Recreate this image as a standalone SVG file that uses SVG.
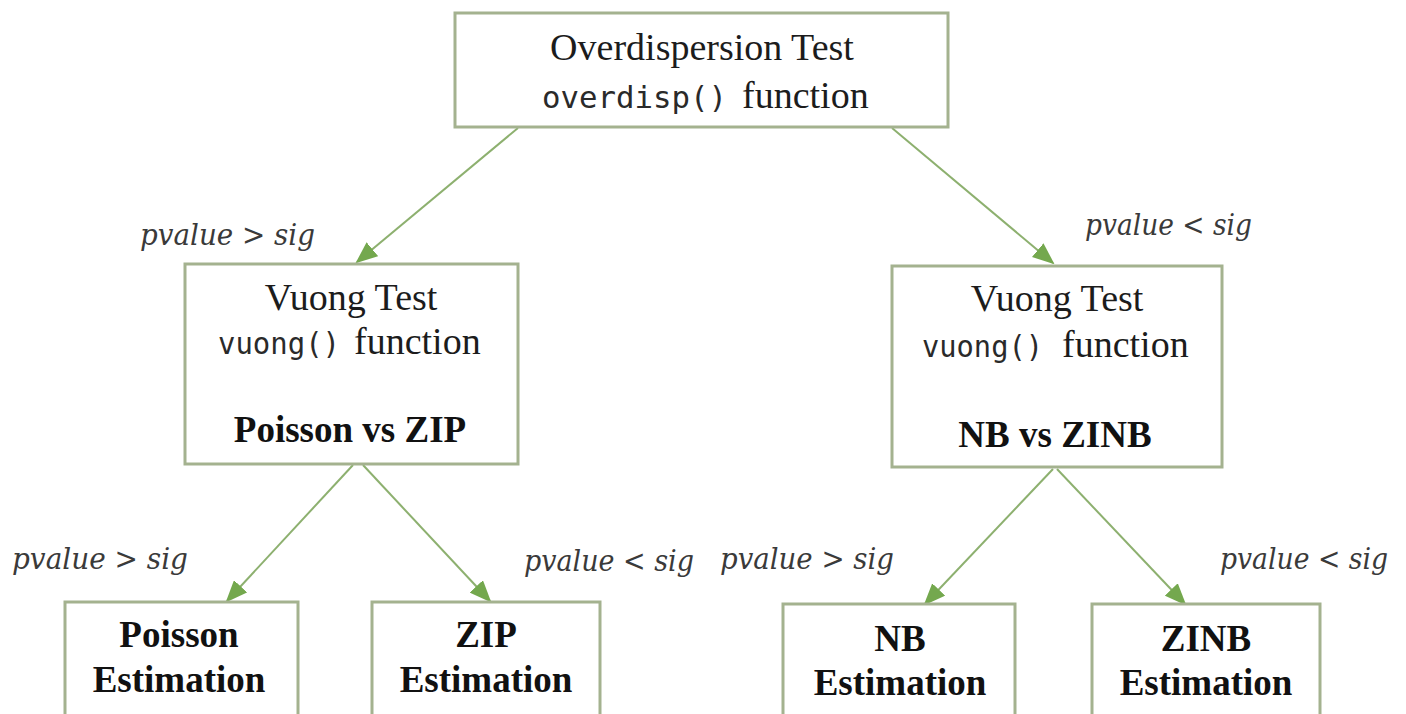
<svg xmlns="http://www.w3.org/2000/svg" width="1406" height="714" viewBox="0 0 1406 714">
<defs>
<style>
.box{fill:#ffffff;stroke:#a4b28f;stroke-width:3}
.edge{stroke:#8db06f;stroke-width:2;fill:none}
.t{font-family:"Liberation Serif","Times New Roman",serif;font-size:38px;fill:#1c1c1c}
.b{font-family:"Liberation Serif","Times New Roman",serif;font-size:37px;font-weight:bold;fill:#111}
.m{font-family:"DejaVu Sans Mono","Liberation Mono",monospace;font-size:30px;fill:#2a2a2a}
.lbl{font-family:"DejaVu Serif","Liberation Serif",serif;font-style:italic;font-size:29px;fill:#3a3a3a}
</style>
<marker id="ah" markerWidth="22" markerHeight="18" refX="20" refY="9" orient="auto" markerUnits="userSpaceOnUse">
<path d="M0,0 L22,9 L0,18 Z" fill="#74a84e"/>
</marker>
</defs>
<rect width="1406" height="714" fill="#ffffff"/>
<g id="connectors">
<line class="edge" x1="518" y1="128" x2="357" y2="262" marker-end="url(#ah)"/>
<line class="edge" x1="892" y1="128" x2="1053" y2="263" marker-end="url(#ah)"/>
<line class="edge" x1="353" y1="465" x2="227" y2="601" marker-end="url(#ah)"/>
<line class="edge" x1="363" y1="465" x2="490" y2="601" marker-end="url(#ah)"/>
<line class="edge" x1="1053" y1="469" x2="925" y2="604" marker-end="url(#ah)"/>
<line class="edge" x1="1057" y1="469" x2="1185" y2="604" marker-end="url(#ah)"/>
<text class="lbl" x="140" y="245" textLength="175" lengthAdjust="spacingAndGlyphs">pvalue &gt; sig</text>
<text class="lbl" x="1085" y="235" textLength="167" lengthAdjust="spacingAndGlyphs">pvalue &lt; sig</text>
<text class="lbl" x="12" y="569" textLength="176" lengthAdjust="spacingAndGlyphs">pvalue &gt; sig</text>
<text class="lbl" x="524" y="571" textLength="170" lengthAdjust="spacingAndGlyphs">pvalue &lt; sig</text>
<text class="lbl" x="720" y="569" textLength="174" lengthAdjust="spacingAndGlyphs">pvalue &gt; sig</text>
<text class="lbl" x="1220" y="569" textLength="168" lengthAdjust="spacingAndGlyphs">pvalue &lt; sig</text>
</g>
<g id="overdispersion">
<rect class="box" x="455" y="13" width="493" height="114"/>
<text class="t" x="702" y="60" text-anchor="middle">Overdispersion Test</text>
<text class="m" x="542" y="108" textLength="185" lengthAdjust="spacingAndGlyphs">overdisp()</text>
<text class="t" x="742" y="108">function</text>
</g>
<g id="vuong-left">
<rect class="box" x="185" y="264" width="333" height="200"/>
<text class="t" x="351" y="310" text-anchor="middle">Vuong Test</text>
<text class="m" x="218" y="354" textLength="122" lengthAdjust="spacingAndGlyphs">vuong()</text>
<text class="t" x="354" y="354">function</text>
<text class="b" x="350" y="442" text-anchor="middle">Poisson vs ZIP</text>
</g>
<g id="vuong-right">
<rect class="box" x="892" y="266" width="330" height="201"/>
<text class="t" x="1057" y="311" text-anchor="middle">Vuong Test</text>
<text class="m" x="922" y="357" textLength="121" lengthAdjust="spacingAndGlyphs">vuong()</text>
<text class="t" x="1062" y="357">function</text>
<text class="b" x="1055" y="447" text-anchor="middle">NB vs ZINB</text>
</g>
<g id="poisson-est">
<rect class="box" x="65" y="602" width="233" height="130"/>
<text class="b" x="179" y="647" text-anchor="middle">Poisson</text>
<text class="b" x="179" y="692" text-anchor="middle">Estimation</text>
</g>
<g id="zip-est">
<rect class="box" x="372" y="602" width="228" height="130"/>
<text class="b" x="486" y="647" text-anchor="middle">ZIP</text>
<text class="b" x="486" y="692" text-anchor="middle">Estimation</text>
</g>
<g id="nb-est">
<rect class="box" x="783" y="604" width="232" height="130"/>
<text class="b" x="900" y="651" text-anchor="middle">NB</text>
<text class="b" x="900" y="695" text-anchor="middle">Estimation</text>
</g>
<g id="zinb-est">
<rect class="box" x="1092" y="604" width="228" height="130"/>
<text class="b" x="1206" y="651" text-anchor="middle">ZINB</text>
<text class="b" x="1206" y="695" text-anchor="middle">Estimation</text>
</g>
</svg>
